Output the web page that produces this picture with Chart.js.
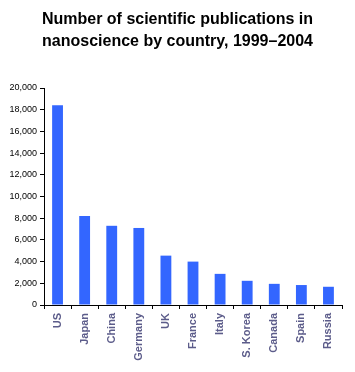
<!DOCTYPE html>
<html><head><meta charset="utf-8">
<script src="https://cdn.jsdelivr.net/npm/chart.js@4"></script>
<style>html,body{margin:0;padding:0;background:#fff;}#wrap{width:355px;height:372px;}</style>
</head><body><div id="wrap"><canvas id="c" width="355" height="372"></canvas></div>
<script>
const countries = ["US","Japan","China","Germany","UK","France","Italy","S. Korea","Canada","Spain","Russia"];
const publications = [18400, 8200, 7300, 7100, 4550, 4000, 2870, 2230, 1950, 1840, 1680];
const titleLines = ["Number of scientific publications in", "nanoscience by country, 1999\u20132004"];
const yMax = 20000, yStep = 2000;

new Chart(document.getElementById('c'), {
  type: 'bar',
  data: { labels: countries, datasets: [{ data: publications, backgroundColor: '#3366ff', barPercentage: 0.4, categoryPercentage: 1.0 }] },
  options: {
    responsive: false, animation: false, devicePixelRatio: 1,
    layout: { padding: { left: 0, right: 0, top: 0, bottom: 0 } },
    plugins: {
      legend: { display: false }, tooltip: { enabled: false },
      title: { display: true, text: titleLines, color: '#000',
        font: { family: 'Liberation Sans, Arial', size: 16, weight: 'bold', lineHeight: 1.375 },
        padding: { top: 9, bottom: 35 } }
    },
    scales: {
      x: {
        grid: { display: true, drawOnChartArea: false, drawTicks: true, tickLength: 4, color: '#000', offset: true },
        border: { display: true, color: '#000', width: 1 },
        ticks: { color: '#5c5c8a', font: { family: 'Liberation Sans, Arial', size: 11, weight: 'bold' }, maxRotation: 90, minRotation: 90, padding: 4 },
        afterFit(s) { s.height = 67; }
      },
      y: {
        min: 0, max: yMax,
        grid: { display: true, drawOnChartArea: false, drawTicks: true, tickLength: 4, color: '#000' },
        border: { display: true, color: '#000', width: 1 },
        ticks: { stepSize: yStep, color: '#000', font: { family: 'Liberation Sans, Arial', size: 9 }, padding: 3,
          callback: v => v.toLocaleString('en-US') },
        afterFit(s) { s.width = 44; }
      },
      yRight: {
        position: 'right', display: true, min: 0, max: yMax,
        grid: { display: false }, border: { display: false }, ticks: { display: false },
        afterFit(s) { s.width = 13; }
      }
    }
  }
});
</script></body></html>
